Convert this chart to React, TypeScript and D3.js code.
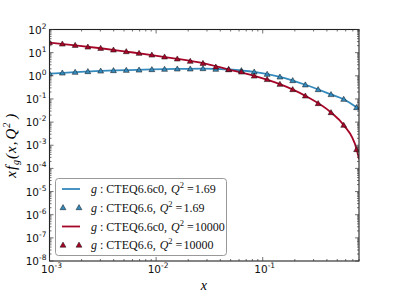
import React, { useEffect, useRef } from "react";
import * as d3 from "d3";

// marker positions (x) and values
const markerX = [
  0.001, 0.00132, 0.00174, 0.00229, 0.00302, 0.00398, 0.00525, 0.00692, 0.00912,
  0.012, 0.0158, 0.0209, 0.0275, 0.0363, 0.0479, 0.0631, 0.0832, 0.11, 0.145,
  0.191, 0.251, 0.331, 0.437, 0.575, 0.759,
];
const ctq66Low = [
  1.26, 1.34, 1.44, 1.54, 1.63, 1.7, 1.75, 1.8, 1.88, 1.94, 2.0, 2.0, 2.07, 1.94,
  1.88, 1.7, 1.48, 1.18, 0.9, 0.63, 0.41, 0.257, 0.157, 0.098, 0.043,
];
const ctq66High = [
  27.5, 23.9, 21, 17.7, 15.6, 13.2, 11.2, 9.5, 8.0, 6.6, 5.4, 4.3, 3.5, 2.43, 1.88,
  1.48, 0.99, 0.7, 0.435, 0.257, 0.136, 0.064, 0.026, 0.0074, 0.00066,
];

// curves (CTEQ6.6c0)
const lineX = [
  0.001, 0.00174, 0.00302, 0.00525, 0.00912, 0.0158, 0.0275, 0.0479, 0.0832, 0.145,
  0.251, 0.437, 0.575, 0.759, 0.8,
];
const c0Low = [
  1.24, 1.43, 1.62, 1.75, 1.88, 1.99, 2.05, 1.87, 1.47, 0.9, 0.41, 0.158, 0.097, 0.044, 0.038,
];
const c0High = [
  27.2, 20.8, 15.5, 11.1, 7.9, 5.4, 3.5, 1.87, 0.99, 0.435, 0.136, 0.026, 0.0074, 0.00068, 0.00025,
];

const BLUE = "#348ABD";
const RED = "#A60628";

const W = 399;
const H = 299;
const L = 49.5, R = 359, T = 29.5, B = 261;

const App = () => {
  const svgRef = useRef(null);

  useEffect(() => {
    const svg = d3.select(svgRef.current);
    svg.selectAll("*").remove();

    const x = d3.scaleLog().domain([1e-3, 0.8]).range([L, R]);
    const y = d3.scaleLog().domain([1e-8, 1e2]).range([B, T]);

    svg.append("rect").attr("width", W).attr("height", H).attr("fill", "white");

    svg
      .append("defs")
      .append("clipPath")
      .attr("id", "plotclip")
      .append("rect")
      .attr("x", L)
      .attr("y", T)
      .attr("width", R - L)
      .attr("height", B - T);

    const plot = svg.append("g").attr("clip-path", "url(#plotclip)");

    const line = d3
      .line()
      .x((d) => x(d[0]))
      .y((d) => y(d[1]))
      .curve(d3.curveMonotoneX);

    const drawLine = (vals, color) =>
      plot
        .append("path")
        .datum(lineX.map((v, i) => [v, vals[i]]))
        .attr("d", line)
        .attr("fill", "none")
        .attr("stroke", color)
        .attr("stroke-width", 1.8);

    drawLine(c0Low, BLUE);
    drawLine(c0High, RED);

    const tri = d3.symbol(d3.symbolTriangle, 15)();

    const drawMarkers = (vals, color) =>
      plot
        .append("g")
        .selectAll("path")
        .data(markerX.map((v, i) => [v, vals[i]]))
        .join("path")
        .attr("d", tri)
        .attr("transform", (d) => `translate(${x(d[0])},${y(d[1]) + 0.5})`)
        .attr("fill", color)
        .attr("stroke", "#111")
        .attr("stroke-width", 0.5);

    drawMarkers(ctq66Low, BLUE);
    drawMarkers(ctq66High, RED);

    // frame
    svg
      .append("rect")
      .attr("x", L)
      .attr("y", T)
      .attr("width", R - L)
      .attr("height", B - T)
      .attr("fill", "none")
      .attr("stroke", "#222")
      .attr("stroke-width", 1.1);

    const isMajor = (v) => Math.abs(Math.log10(v) - Math.round(Math.log10(v))) < 1e-6;
    const ticks = svg.append("g").attr("stroke", "#333").attr("stroke-width", 0.7);

    x.ticks().forEach((v) => {
      const len = isMajor(v) ? 4 : 2;
      const px = x(v);
      ticks.append("line").attr("x1", px).attr("x2", px).attr("y1", B).attr("y2", B - len);
      ticks.append("line").attr("x1", px).attr("x2", px).attr("y1", T).attr("y2", T + len);
    });
    y.ticks(20).forEach((v) => {
      const len = isMajor(v) ? 4 : 2;
      const py = y(v);
      ticks.append("line").attr("x1", L).attr("x2", L + len).attr("y1", py).attr("y2", py);
      ticks.append("line").attr("x1", R).attr("x2", R - len).attr("y1", py).attr("y2", py);
    });

    const font = "'DejaVu Sans', sans-serif";

    const powLabel = (g, e, px, py, anchor) => {
      const t = g
        .append("text")
        .attr("x", px)
        .attr("y", py)
        .attr("text-anchor", anchor)
        .attr("font-family", font)
        .attr("font-size", 10.5)
        .attr("fill", "#111");
      t.append("tspan").text("10");
      t.append("tspan").attr("dy", -5).attr("font-size", 7.5).text(String(e));
    };

    const labels = svg.append("g");
    [-3, -2, -1].forEach((e) => powLabel(labels, e, x(10 ** e) + 2, B + 12, "middle"));
    d3.range(-8, 3).forEach((e) => powLabel(labels, e, L - 3, y(10 ** e) + 4, "end"));

    const serif = "'Liberation Serif', 'DejaVu Serif', serif";

    // axis titles
    svg
      .append("text")
      .attr("x", (L + R) / 2 - 0.5)
      .attr("y", 290)
      .attr("text-anchor", "middle")
      .attr("font-family", serif)
      .attr("font-style", "italic")
      .attr("font-size", 14)
      .text("x");

    const yl = svg
      .append("text")
      .attr("transform", `translate(16,${(T + B) / 2}) rotate(-90)`)
      .attr("text-anchor", "middle")
      .attr("font-family", serif)
      .attr("font-style", "italic")
      .attr("font-size", 15)
      .attr("letter-spacing", 1);
    yl.append("tspan").text("xf");
    yl.append("tspan").attr("dy", 3).attr("font-size", 10).text("g");
    yl.append("tspan").attr("dy", -3).text("(x,");
    yl.append("tspan").attr("dx", 1).text("Q");
    yl.append("tspan").attr("dy", -6).attr("font-size", 10).text("2");
    yl.append("tspan").attr("dy", 6).attr("dx", 3).text(")");

    // legend
    const leg = svg.append("g");
    leg
      .append("rect")
      .attr("x", 55.5)
      .attr("y", 178.5)
      .attr("width", 171)
      .attr("height", 77)
      .attr("rx", 3)
      .attr("fill", "white")
      .attr("stroke", "#999")
      .attr("stroke-width", 1);

    const entries = [
      { type: "line", color: BLUE, set: "CTEQ6.6c0,", q: "1.69" },
      { type: "marker", color: BLUE, set: "CTEQ6.6,", q: "1.69" },
      { type: "line", color: RED, set: "CTEQ6.6c0,", q: "10000" },
      { type: "marker", color: RED, set: "CTEQ6.6,", q: "10000" },
    ];
    const rowY = [189, 207.5, 226.5, 245];

    entries.forEach((d, i) => {
      const cy = rowY[i];
      if (d.type === "line") {
        leg
          .append("line")
          .attr("x1", 62)
          .attr("x2", 80)
          .attr("y1", cy)
          .attr("y2", cy)
          .attr("stroke", d.color)
          .attr("stroke-width", 1.8);
      } else {
        [63, 79].forEach((mx) =>
          leg
            .append("path")
            .attr("d", tri)
            .attr("transform", `translate(${mx},${cy + 0.5})`)
            .attr("fill", d.color)
            .attr("stroke", "#111")
            .attr("stroke-width", 0.5)
        );
      }
      const t = leg
        .append("text")
        .attr("x", 91)
        .attr("y", cy + 4)
        .attr("font-family", serif)
        .attr("font-size", 12)
        .attr("fill", "#111");
      t.append("tspan").attr("font-style", "italic").text("g");
      t.append("tspan").attr("dx", 3).text(":");
      t.append("tspan").attr("dx", 3).text(d.set);
      t.append("tspan").attr("dx", 4).attr("font-style", "italic").text("Q");
      t.append("tspan").attr("dy", -5).attr("font-size", 8.5).text("2");
      t.append("tspan").attr("dy", 5).attr("dx", 3).text("=");
      t.append("tspan").attr("dx", 1).text(d.q);
    });
  }, []);

  return (
    <div style={{ position: "fixed", left: 0, top: 0, width: W, height: H }}>
      <svg ref={svgRef} width={W} height={H} />
    </div>
  );
};

export default App;
